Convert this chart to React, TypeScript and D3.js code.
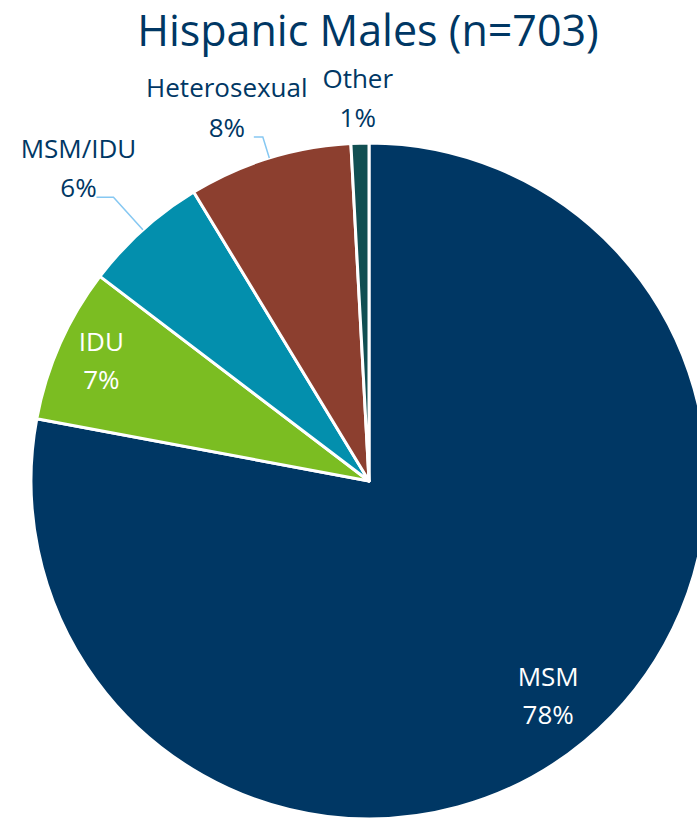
import React, { useEffect, useRef } from 'react';
import * as d3 from 'd3';

const categories = ['MSM', 'IDU', 'MSM/IDU', 'Heterosexual', 'Other'];
// case counts (n = 703)
const counts = [548, 52, 42, 55, 6];
const colors = ['#003764', '#7BBD22', '#038FAD', '#8C3F2F', '#114F52'];
const title = 'Hispanic Males (n=703)';

const App = () => {
  const ref = useRef<SVGSVGElement>(null);

  useEffect(() => {
    const width = 697,
      height = 818;
    const svg = d3.select(ref.current).attr('width', width).attr('height', height);
    svg.selectAll('*').remove();

    const cx = 369,
      cy = 481,
      R = 338;
    const total = d3.sum(counts);
    const data = categories.map((c, i) => ({ name: c, value: counts[i], color: colors[i] }));

    const pie = d3
      .pie<any>()
      .sort(null)
      .value((d) => d.value);
    const arcs = pie(data);
    const arc = d3.arc<any>().innerRadius(0).outerRadius(R);

    const g = svg.append('g').attr('transform', `translate(${cx},${cy})`);

    g.selectAll('path')
      .data(arcs)
      .enter()
      .append('path')
      .attr('d', arc)
      .attr('fill', (d) => d.data.color)
      .attr('stroke', '#fff')
      .attr('stroke-width', 3)
      .attr('stroke-linejoin', 'round');

    svg
      .append('text')
      .attr('x', 368)
      .attr('y', 46)
      .attr('text-anchor', 'middle')
      .attr('font-family', 'Open Sans')
      .attr('font-size', 43)
      .attr('fill', '#003764')
      .text(title);

    const pct = (v: number) => Math.round((v / total) * 100) + '%';
    const polar = (a: number, r: number) => [Math.sin(a) * r, -Math.cos(a) * r];
    const font = 'Open Sans';
    const fs = 26;

    // inside labels: MSM, IDU
    const inside = [
      { i: 0, k: 0.83, dx: 0, dy: 3 },
      { i: 1, k: 0.86, dx: -2, dy: 2 },
    ];
    inside.forEach(({ i, k, dx, dy }) => {
      const a = (arcs[i].startAngle + arcs[i].endAngle) / 2;
      const [x, y] = polar(a, R * k);
      const t = g
        .append('text')
        .attr('text-anchor', 'middle')
        .attr('font-family', font)
        .attr('font-size', fs)
        .attr('fill', '#fff');
      t.append('tspan').attr('x', x + dx).attr('y', y - 14 + dy).text(categories[i]);
      t.append('tspan').attr('x', x + dx).attr('y', y + 24 + dy).text(pct(counts[i]));
    });

    // outside labels with leader lines
    const outside = [
      { i: 2, k: 1.13, run: 17, dx: -18, nameDy: -39 },
      { i: 3, k: 1.065, run: 9, dx: -27, nameDy: -40 },
    ];
    outside.forEach(({ i, k, run, dx, nameDy }) => {
      const a = (arcs[i].startAngle + arcs[i].endAngle) / 2;
      const p0 = polar(a, R);
      const p1 = polar(a, R * k);
      const p2 = [p1[0] - run, p1[1]];
      g.append('path')
        .attr('d', d3.line()([p0 as [number, number], p1 as [number, number], p2 as [number, number]]))
        .attr('fill', 'none')
        .attr('stroke', '#86C8F2')
        .attr('stroke-width', 1.5);
      const lx = p2[0] + dx;
      const t = g
        .append('text')
        .attr('text-anchor', 'middle')
        .attr('font-family', font)
        .attr('font-size', fs)
        .attr('fill', '#003764');
      t.append('tspan').attr('x', lx).attr('y', p2[1] + nameDy).text(categories[i]);
      t.append('tspan').attr('x', lx).attr('y', p2[1]).text(pct(counts[i]));
    });

    // Other: label just above the thin slice
    {
      const i = 4;
      const a = (arcs[i].startAngle + arcs[i].endAngle) / 2;
      const [x, y] = polar(a, R * 1.02);
      const t = g
        .append('text')
        .attr('text-anchor', 'middle')
        .attr('font-family', font)
        .attr('font-size', fs)
        .attr('fill', '#003764');
      t.append('tspan').attr('x', x - 2).attr('y', y - 9 - 39).text(categories[i]);
      t.append('tspan').attr('x', x - 2).attr('y', y - 9).text(pct(counts[i]));
    }
  }, []);

  return <svg ref={ref} style={{ position: 'absolute', left: 0, top: 0 }} />;
};

export default App;
